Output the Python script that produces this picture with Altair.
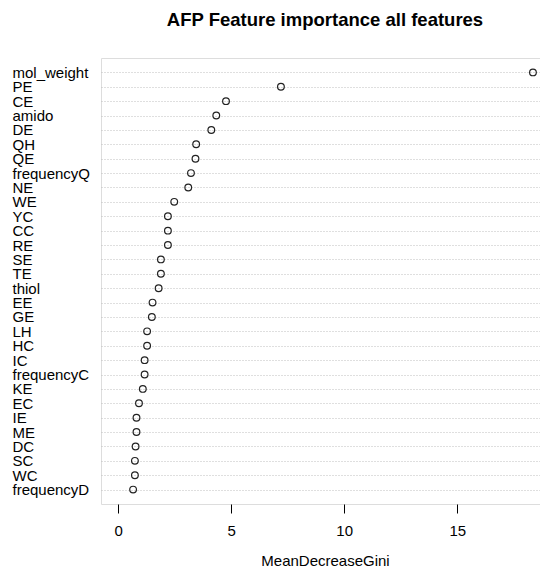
import altair as alt
import pandas as pd

features = ["mol_weight", "PE", "CE", "amido", "DE", "QH", "QE", "frequencyQ", "NE", "WE",
            "YC", "CC", "RE", "SE", "TE", "thiol", "EE", "GE", "LH", "HC",
            "IC", "frequencyC", "KE", "EC", "IE", "ME", "DC", "SC", "WC", "frequencyD"]
gini = [18.35, 7.20, 4.77, 4.34, 4.12, 3.45, 3.42, 3.22, 3.10, 2.48,
        2.20, 2.20, 2.20, 1.89, 1.89, 1.79, 1.52, 1.49, 1.28, 1.28,
        1.17, 1.17, 1.09, 0.92, 0.81, 0.81, 0.77, 0.74, 0.74, 0.66]
x_ticks = [0, 5, 10, 15]

df = pd.DataFrame({"feature": features, "gini": gini})

FONT = "Liberation Sans"

chart = alt.Chart(df).mark_point(
    shape="circle", filled=False, size=45, stroke="#222222", strokeWidth=1.2, opacity=1
).encode(
    x=alt.X("gini:Q",
            scale=alt.Scale(domain=[-0.76, 19.06], nice=False, zero=False),
            axis=alt.Axis(values=x_ticks, title="MeanDecreaseGini", grid=False, domain=False,
                          tickSize=9, tickColor="#000000",
                          labelFontSize=15, labelColor="#000000", labelFont=FONT,
                          labelPadding=10, titleFont=FONT, titleFontSize=15,
                          titleFontWeight="normal", titleColor="#000000", titlePadding=15)),
    y=alt.Y("feature:N", sort=features,
            scale=alt.Scale(type="point", padding=1),
            axis=alt.Axis(title=None, domain=False, ticks=False, grid=True,
                          gridColor="#bebebe", gridDash=[1, 2], gridWidth=1,
                          labelAlign="left", labelPadding=89, labelFontSize=15,
                          labelColor="#000000", labelFont=FONT, labelBaseline="middle")),
).properties(
    width=448,
    height=446,
    title=alt.TitleParams("AFP Feature importance all features", font=FONT, fontSize=18.5,
                          fontWeight="bold", anchor="middle", frame="group",
                          baseline="alphabetic", offset=14, color="#000000"),
    autosize=alt.AutoSizeParams(type="none"),
    padding={"left": 93, "top": 50, "right": -9, "bottom": 63},
).configure_view(
    stroke="#666666", strokeWidth=1
).configure(background="white")

chart.save("out.html", embed_options={"renderer": "svg", "actions": False})
